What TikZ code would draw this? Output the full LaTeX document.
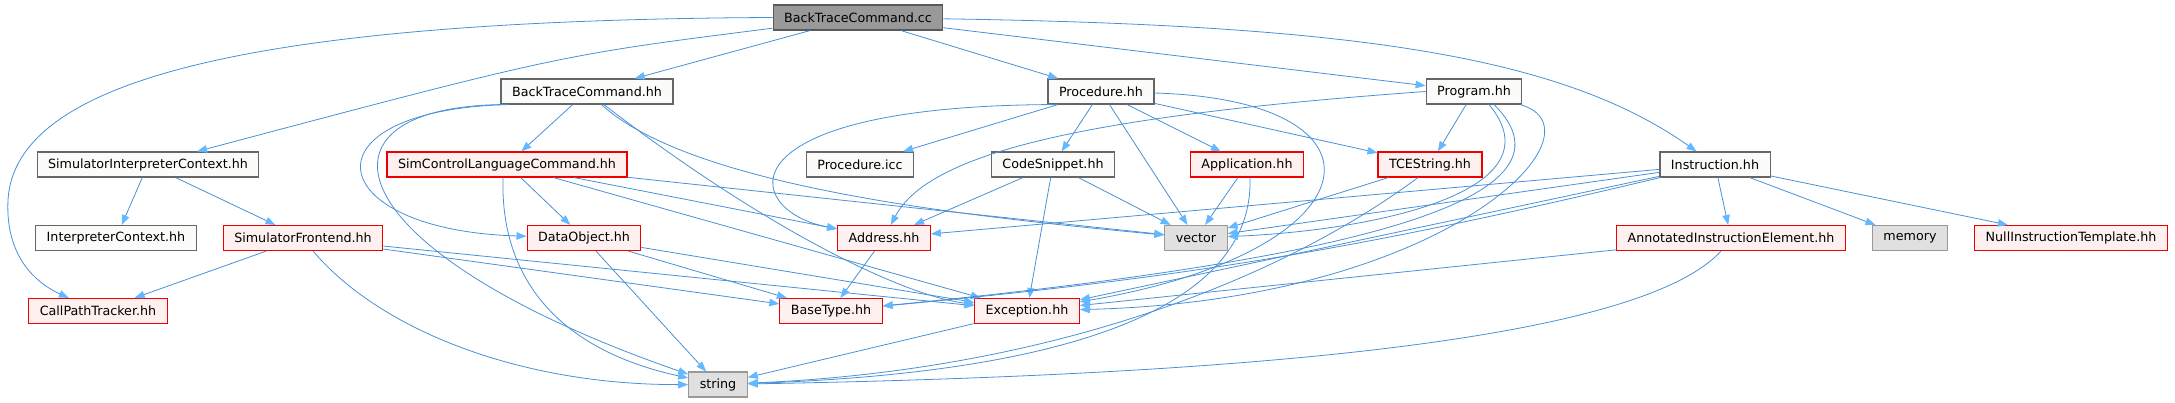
\documentclass[tikz,border=0pt]{standalone}
\usepackage{fontspec}
\setmainfont{DejaVu Sans}
\usetikzlibrary{arrows.meta}
\definecolor{rootfill}{HTML}{999999}
\definecolor{rootline}{HTML}{595959}
\definecolor{hdrfill}{HTML}{FBFCFA}
\definecolor{hdrline}{HTML}{666666}
\definecolor{errfill}{HTML}{FFF0F0}
\definecolor{errline}{HTML}{EE0000}
\definecolor{sysfill}{HTML}{E0E0E0}
\definecolor{sysline}{HTML}{999999}
\definecolor{incline}{HTML}{4891D6}
\definecolor{inchead}{HTML}{63B8FF}
\tikzset{
  hdr/.style    = {rectangle, draw=hdrline, fill=hdrfill, line width=1.1pt,
                   font=\fontsize{12.7}{15}\selectfont, minimum height=25pt,
                   inner xsep=11pt, inner ysep=0pt},
  roothdr/.style= {hdr, draw=rootline, fill=rootfill},
  errhdr/.style = {hdr, draw=errline, fill=errfill},
  syshdr/.style = {hdr, draw=sysline, fill=sysfill},
  inc/.style    = {-{Triangle[length=10pt, width=7.5pt, color=inchead]},
                   line width=0.8pt, draw=incline},
}
\begin{document}
\begin{tikzpicture}[x=1pt, y=1pt]
    \useasboundingbox (0,0) rectangle (2175,-403);
    \node[roothdr] (cc)    at (858,-17.5)  {BackTraceCommand.cc};
    \node[hdr]     (bth)   at (587,-91.5)  {BackTraceCommand.hh};
    \node[hdr]     (proc)  at (1101,-91.5) {Procedure.hh};
    \node[hdr]     (prog)  at (1474,-91.5) {Program.hh};
    \node[hdr]     (sic)   at (148,-164.5) {SimulatorInterpreterContext.hh};
    \node[errhdr]  (sclc)  at (507,-164.5) {SimControlLanguageCommand.hh};
    \node[hdr]     (picc)  at (860,-164.5) {Procedure.icc};
    \node[hdr]     (csn)   at (1053,-164.5){CodeSnippet.hh};
    \node[errhdr]  (app)   at (1247,-164.5){Application.hh};
    \node[errhdr]  (tce)   at (1430,-164.5){TCEString.hh};
    \node[hdr]     (instr) at (1715,-164.5){Instruction.hh};
    \node[hdr]     (ictx)  at (116,-238)   {InterpreterContext.hh};
    \node[errhdr]  (sfe)   at (303,-238)   {SimulatorFrontend.hh};
    \node[errhdr]  (dobj)  at (584,-238)   {DataObject.hh};
    \node[errhdr]  (addr)  at (884,-238)   {Address.hh};
    \node[syshdr]  (vec)   at (1196,-238)  {vector};
    \node[errhdr]  (aie)   at (1731,-238)  {AnnotatedInstructionElement.hh};
    \node[syshdr]  (mem)   at (1910,-238)  {memory};
    \node[errhdr]  (nit)   at (2071,-238)  {NullInstructionTemplate.hh};
    \node[errhdr]  (cpt)   at (98,-311)    {CallPathTracker.hh};
    \node[errhdr]  (btype) at (831,-311)   {BaseType.hh};
    \node[errhdr]  (exc)   at (1027,-311)  {Exception.hh};
    \node[syshdr]  (str)   at (718,-384.5) {string};
    \foreach \a/\b in {cc/bth, cc/proc, cc/prog, bth/sclc, sic/ictx, sic/sfe,
        sclc/dobj, sclc/addr, sclc/vec, sclc/exc, sfe/cpt, sfe/btype, sfe/exc,
        dobj/str, dobj/btype, dobj/exc, proc/picc, proc/csn, proc/app, proc/tce,
        proc/vec, csn/addr, csn/exc, csn/vec, app/vec, tce/vec, prog/tce,
        instr/aie, instr/mem, instr/nit, instr/vec, instr/addr, instr/exc,
        aie/exc, addr/btype, exc/str}{\draw[inc] (\a) -- (\b);}
    \draw[inc] (cc) .. controls (560,-55) .. (sic);
    \draw[inc] (cc.west) .. controls (250,-20) and (15,-80) .. (8,-200)
        .. controls (5,-260) and (40,-285) .. (cpt);
    \draw[inc] (cc) .. controls (1350,-25) and (1560,-55) .. (instr);
    \draw[inc] ([xshift=8pt]bth.south west) .. controls (300,-110) and (320,-230) .. (dobj);
    \draw[inc] ([xshift=6pt]bth.south west) .. controls (300,-105) and (330,-250) .. (str);
    \draw[inc] (bth) .. controls (690,-185) and (950,-215) .. (vec);
    \draw[inc] (bth) .. controls (760,-225) and (900,-295) .. (exc);
    \draw[inc] ([xshift=-4pt]sclc.south) .. controls (500,-280) and (560,-350) .. (str);
    \draw[inc] ([xshift=10pt]sfe.south) .. controls (380,-330) and (520,-385) .. (str);
    \draw[inc] ([xshift=10pt]proc.south west) .. controls (720,-105) and (740,-210) .. (addr);
    \draw[inc] (proc) .. controls (1400,-100) and (1380,-250) .. (exc);
    \draw[inc] ([xshift=3pt]app.south) .. controls (1255,-330) and (1000,-375) .. (str);
    \draw[inc] ([xshift=-12pt]tce.south) .. controls (1280,-280) and (1050,-370) .. (str);
    \draw[inc] (prog.west) .. controls (1100,-115) and (930,-150) .. (addr);
    \draw[inc] ([xshift=15pt]prog.south) .. controls (1560,-190) and (1380,-230) .. (vec);
    \draw[inc] ([xshift=20pt]prog.south) .. controls (1590,-200) and (1350,-260) .. (btype);
    \draw[inc] (prog) .. controls (1610,-130) and (1450,-300) .. (exc);
    \draw[inc] (instr) to[bend left=4] (btype);
    \draw[inc] ([xshift=-10pt]aie.south) .. controls (1640,-340) and (1250,-375) .. (str);
\end{tikzpicture}
\end{document}
